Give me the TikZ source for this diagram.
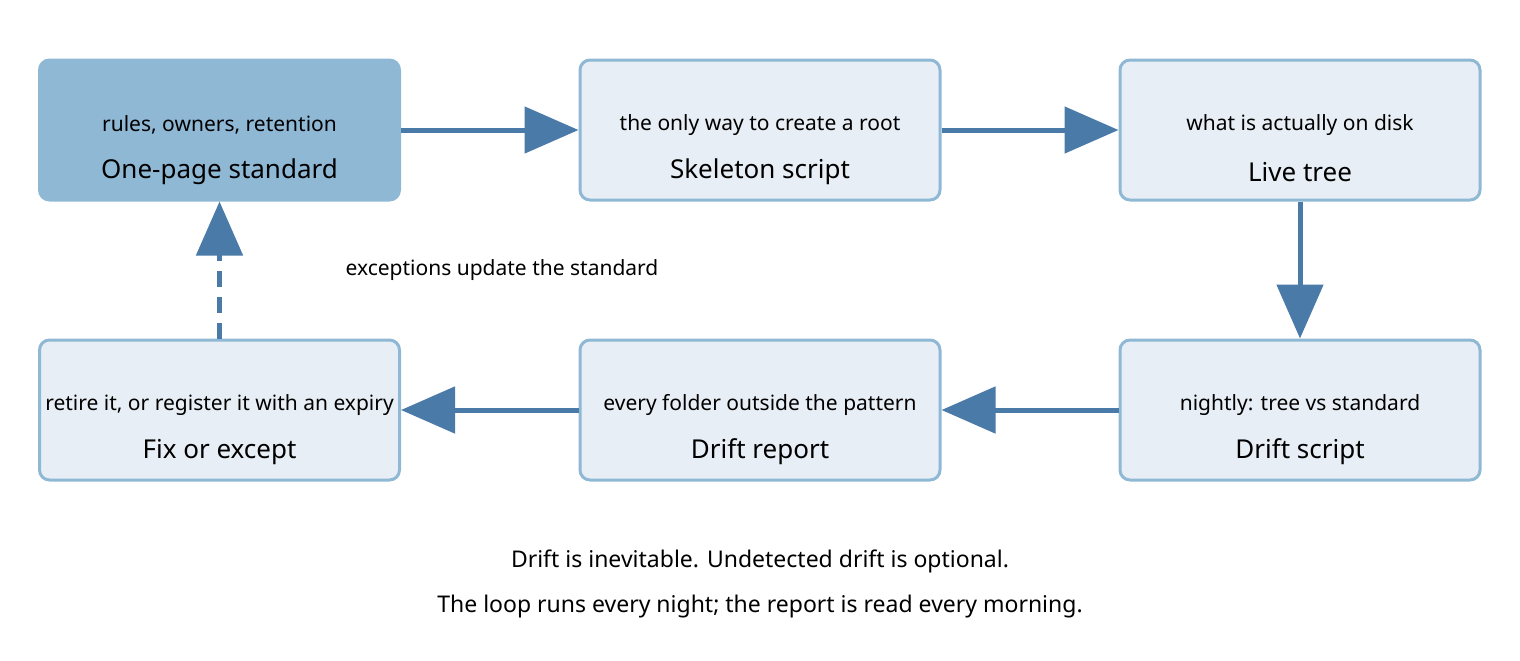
\documentclass[tikz,border=0pt]{standalone}
\usepackage{fontspec}
\setmainfont{Noto Sans}
\usetikzlibrary{arrows.meta}
\definecolor{dark}{HTML}{8FB8D5}
\definecolor{light}{HTML}{E8EEF5}
\definecolor{arr}{HTML}{4A7AA8}
\begin{document}
\begin{tikzpicture}[x=0.5pt,y=-0.5pt,
  box/.style={draw=dark,line width=1.5pt,fill=light,rounded corners=5pt,minimum width=180pt,minimum height=70pt,inner sep=0pt},
  hl/.style={box,fill=dark},
  lbl/.style={font=\fontsize{10.5}{12}\selectfont},
  ttl/.style={font=\bfseries\fontsize{13}{15}\selectfont},
  conn/.style={draw=arr,line width=2.5pt,-{Triangle[length=27pt,width=23pt]}}]
\useasboundingbox (0,0) rectangle (1520,660);
\node[hl] (a) at (219.5,130) {};
\node[box] (b) at (760,130) {};
\node[box] (c) at (1300,130) {};
\node[box] (d) at (1300,410) {};
\node[box] (e) at (760,410) {};
\node[box] (f) at (219.5,410) {};
\foreach \n/\t/\s in {a/One-page standard/{rules, owners, retention},b/Skeleton script/the only way to create a root,c/Live tree/what is actually on disk,d/Drift script/{nightly: tree vs standard},e/Drift report/every folder outside the pattern,f/Fix or except/{retire it, or register it with an expiry}}{
  \node[ttl] at ([yshift=-21pt]\n.center) {\t};
  \node[lbl] at ([yshift=2.5pt]\n.center) {\s};
}
\draw[conn] (a) -- (b);
\draw[conn] (b) -- (c);
\draw[conn] (c) -- (d);
\draw[conn] (d) -- (e);
\draw[conn] (e) -- (f);
\draw[conn,dash pattern=on 8pt off 5pt] (f) -- (a);
\node[lbl] (x) at (502,270) {exceptions update the standard};
\node[font=\fontsize{11.5}{14}\selectfont] (n1) at (760,561) {Drift is inevitable. Undetected drift is optional.};
\node[font=\fontsize{11.5}{14}\selectfont] (n2) at (760,607) {The loop runs every night; the report is read every morning.};
\end{tikzpicture}
\end{document}
